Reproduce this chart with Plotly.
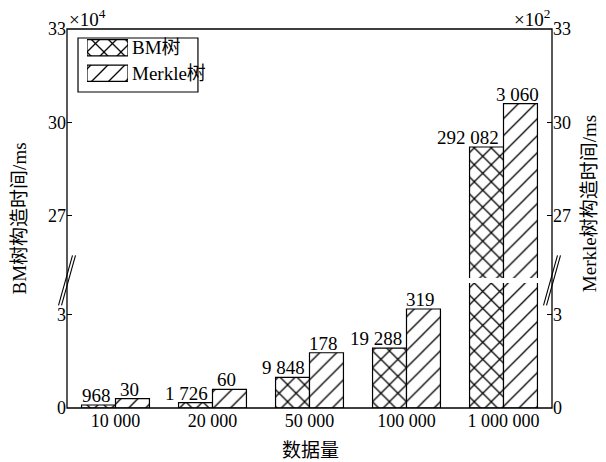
import plotly.graph_objects as go

# Build-time comparison: BM tree vs Merkle tree
sizes = ["10 000", "20 000", "50 000", "100 000", "1 000 000"]
bm_ms = [968, 1726, 9848, 19288, 292082]
merkle_ms = [30, 60, 178, 319, 3060]
series_names = ["BM树", "Merkle树"]
series_shapes = ["x", "/"]
series_solidity = [0.2, 0.11]

BM_UNIT = 1e4      # left axis in units of 10^4 ms
MK_UNIT = 1e2      # right axis in units of 10^2 ms

LOW_RANGE = [0, 4.03]
HIGH_RANGE = [25, 33]
LOW_DOMAIN = [0, 0.33]
HIGH_DOMAIN = [0.343, 1]
BREAK_Y = (LOW_DOMAIN[1] + HIGH_DOMAIN[0]) / 2

BAR_W = 0.35
FONT = "Liberation Serif, Noto Sans CJK SC, serif"

idx = list(range(len(sizes)))
bm_y = [v / BM_UNIT for v in bm_ms]
mk_y = [v / MK_UNIT for v in merkle_ms]


def fmt(v):
    return f"{v:,}".replace(",", " ")


def bar_marker(k):
    return dict(
        color="white",
        line=dict(color="black", width=1.2),
        pattern=dict(shape=series_shapes[k], size=12,
                     solidity=series_solidity[k], fgopacity=1,
                     fgcolor="black", bgcolor="white", fillmode="replace"),
    )


fig = go.Figure()
for yax in ("y", "y3"):
    fig.add_trace(go.Bar(
        x=idx, y=bm_y, width=BAR_W, offset=-BAR_W, xaxis="x", yaxis=yax,
        name=series_names[0], showlegend=False,
        marker=bar_marker(0), hoverinfo="skip",
    ))
for yax in ("y2", "y4"):
    fig.add_trace(go.Bar(
        x=idx, y=mk_y, width=BAR_W, offset=0, xaxis="x", yaxis=yax,
        name=series_names[1], showlegend=False,
        marker=bar_marker(1), hoverinfo="skip",
    ))

# legend key: one full-width patterned swatch per series in a small inset axis
for k, name in enumerate(series_names):
    fig.add_trace(go.Bar(
        x=[1], y=[k], orientation="h", width=0.64, xaxis="x5", yaxis="y5",
        name=name, showlegend=False, marker=bar_marker(k),
        hoverinfo="skip",
    ))

annotations = []
# value labels: BM labels sit right-aligned over the left bar,
# Merkle labels centred over the right bar
for i, (v, yv) in enumerate(zip(bm_ms, bm_y)):
    yref = "y" if yv <= LOW_RANGE[1] else "y3"
    annotations.append(dict(
        x=i, y=yv, xref="x", yref=yref, text=fmt(v), showarrow=False,
        xanchor="right", yanchor="bottom", xshift=-3, yshift=-3,
        font=dict(size=19),
    ))
for i, (v, yv) in enumerate(zip(merkle_ms, mk_y)):
    yref = "y2" if yv <= LOW_RANGE[1] else "y4"
    annotations.append(dict(
        x=i + BAR_W / 2, y=yv, xref="x", yref=yref, text=fmt(v),
        showarrow=False, xanchor="center", yanchor="bottom",
        xshift=-3, yshift=-3, font=dict(size=19),
    ))

# legend labels next to the swatches
for k, name in enumerate(series_names):
    annotations.append(dict(
        x=1, y=k, xref="x5 domain", yref="y5", text=name, showarrow=False,
        xanchor="left", yanchor="middle", xshift=2, font=dict(size=19),
    ))

# axis titles and scale factors
annotations += [
    dict(x=-0.097, y=0.5, xref="paper", yref="paper", text="BM树构造时间/ms",
         textangle=-90, showarrow=False, xanchor="center", yanchor="middle",
         font=dict(size=19)),
    dict(x=1.078, y=0.54, xref="paper", yref="paper", text="Merkle树构造时间/ms",
         textangle=-90, showarrow=False, xanchor="center", yanchor="middle",
         font=dict(size=19)),
    dict(x=0.503, y=-0.112, xref="paper", yref="paper", text="数据量",
         showarrow=False, xanchor="center", yanchor="middle",
         font=dict(size=19)),
    dict(x=0, y=1, xref="paper", yref="paper", text="×10<sup>4</sup>",
         showarrow=False, xanchor="left", yanchor="bottom", yshift=-3,
         font=dict(size=19)),
    dict(x=1, y=1, xref="paper", yref="paper", text="×10<sup>2</sup>",
         showarrow=False, xanchor="right", yanchor="bottom", yshift=-3,
         font=dict(size=19)),
]

shapes = [
    dict(type="rect", xref="paper", yref="paper", x0=0, y0=0, x1=1, y1=1,
         line=dict(color="black", width=1.3), layer="above"),
    # legend frame
    dict(type="rect", xref="paper", yref="paper", x0=0.0227, x1=0.270,
         y0=0.8338, y1=0.9763, line=dict(color="black", width=1.2),
         fillcolor="rgba(0,0,0,0)", layer="above"),
]
# axis-break slashes on both side axes
for xa in (0, 1):
    for dx in (-1.5, 1.5):
        shapes.append(dict(
            type="line", xref="paper", yref="paper",
            xsizemode="pixel", xanchor=xa, x0=-7 + dx, x1=7 + dx,
            ysizemode="pixel", yanchor=BREAK_Y, y0=-25, y1=25,
            line=dict(color="black", width=1.1), layer="above",
        ))

tick_common = dict(ticks="inside", ticklen=5, tickwidth=1.2, tickcolor="black",
                   showgrid=False, zeroline=False, showline=False,
                   tickfont=dict(size=18, color="black"))
hidden = dict(visible=False, showgrid=False, zeroline=False, fixedrange=True)

fig.update_layout(
    width=606, height=462,
    margin=dict(l=67, r=54, t=29, b=54),
    paper_bgcolor="white", plot_bgcolor="white",
    font=dict(family=FONT, color="black", size=18),
    xaxis=dict(range=[-0.5, 4.5], tickvals=idx, ticktext=sizes, ticks="",
               showgrid=False, zeroline=False, showline=False,
               tickfont=dict(size=18, color="black"), anchor="y"),
    yaxis=dict(domain=LOW_DOMAIN, range=LOW_RANGE, tickvals=[0, 3],
               anchor="x", **tick_common),
    yaxis2=dict(overlaying="y", side="right", range=LOW_RANGE,
                tickvals=[0, 3], anchor="x", **tick_common),
    yaxis3=dict(domain=HIGH_DOMAIN, range=HIGH_RANGE, tickvals=[27, 30, 33],
                anchor="x", **tick_common),
    yaxis4=dict(overlaying="y3", side="right", range=HIGH_RANGE,
                tickvals=[27, 30, 33], anchor="x", **tick_common),
    xaxis5=dict(domain=[0.0412, 0.1258], range=[0, 1], anchor="y5", **hidden),
    yaxis5=dict(domain=[0.8496, 0.984], range=[1.5, -0.5], anchor="x5",
                **hidden),
    showlegend=False,
    annotations=annotations,
    shapes=shapes,
)

fig.write_html("out.html")
